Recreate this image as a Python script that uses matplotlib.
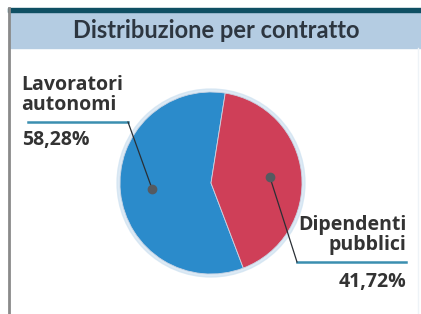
import matplotlib.pyplot as plt
import matplotlib.patches as mpatches
import numpy as np

title = "Distribuzione per contratto"
labels = ["Lavoratori\nautonomi", "Dipendenti\npubblici"]
shares = [58.28, 41.72]
share_text = ["58,28%", "41,72%"]
colors = ["#2b8bcb", "#cf3f58"]

W, H = 421, 314
fig = plt.figure(figsize=(W / 100, H / 100), dpi=100)
ax = fig.add_axes([0, 0, 1, 1])

def py(y):
    # pixel row (from top) -> data y
    return H - y

# frame: header band, top rule, left rule
ax.add_patch(mpatches.Rectangle((9, py(48)), W - 9, 36, color="#b4cce2", zorder=1))
ax.add_patch(mpatches.Rectangle((8, py(12)), W - 8, 4, color="#0f4f63", zorder=2))
ax.plot([8.5, 8.5], [0, py(8)], color="#8a8a8a", lw=2, zorder=2)
ax.plot([418, 418], [0, py(48)], color="#eef3f7", lw=1, zorder=1)

ax.text(216, py(30), title, ha="center", va="center", fontsize=17,
        fontweight="bold", family="Lato", color="#2d3640", zorder=3)

# pie
cx, cy, r = 211, py(183), 91
ax.add_patch(mpatches.Circle((cx, cy), r + 3, color="#cfe2f1", alpha=0.7, zorder=2))
wedges, _ = ax.pie(shares, colors=colors, startangle=81, center=(cx, cy), radius=r,
                   wedgeprops=dict(linewidth=0.6, edgecolor="#c9d4e4"), frame=True)
for w in wedges:
    w.set_zorder(3)
ax.set_xlim(0, W)
ax.set_ylim(0, H)
ax.axis("off")

# dots at wedge centres
dots = []
for w in wedges:
    mid = np.deg2rad((w.theta1 + w.theta2) / 2)
    dx, dy = cx + 0.65 * r * np.cos(mid), cy + 0.65 * r * np.sin(mid)
    dots.append((dx, dy))
    ax.plot(dx, dy, "o", ms=6, color="#555a60", zorder=5)

lab_kw = dict(fontsize=14, fontweight="bold", family="Open Sans", color="#333333",
              linespacing=1.0, zorder=5)
line_c = "#3b8fb0"

# left label
ax.text(21, py(95), labels[0], ha="left", va="center", **lab_kw)
ax.plot([28, 128], [py(122), py(122)], color=line_c, lw=1.8, zorder=4)
ax.plot([128, dots[0][0]], [py(122), dots[0][1]], color="#2a2f35", lw=0.9, zorder=4)
ax.text(22, py(140), share_text[0], ha="left", va="center", **lab_kw)

# right label
ax.text(406, py(235), labels[1], ha="right", va="center", multialignment="right", **lab_kw)
ax.plot([297, 406], [py(262), py(262)], color=line_c, lw=1.8, zorder=4)
ax.plot([297, dots[1][0]], [py(262), dots[1][1]], color="#2a2f35", lw=0.9, zorder=4)
ax.text(406, py(282), share_text[1], ha="right", va="center", **lab_kw)

fig.savefig("out.png", dpi=100)
